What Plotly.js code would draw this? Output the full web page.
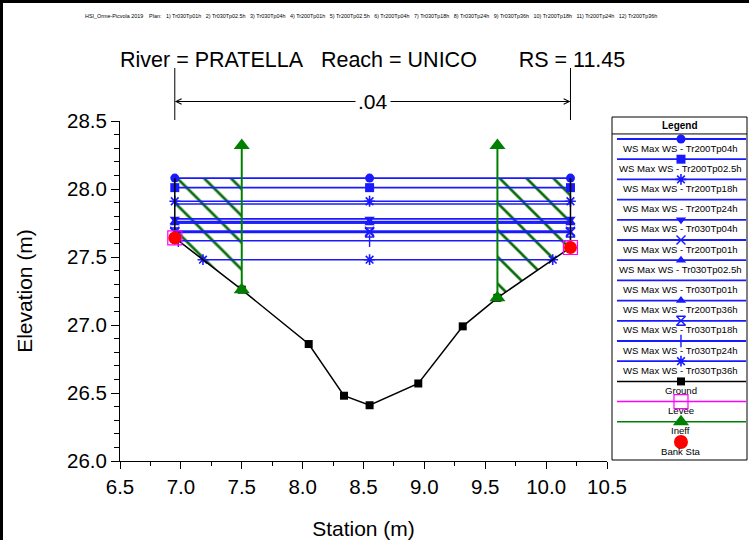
<!DOCTYPE html>
<html><head><meta charset="utf-8">
<script src="https://cdn.plot.ly/plotly-3.0.1.min.js"></script>
<style>html,body{margin:0;padding:0;background:#fff}#chart{width:749px;height:540px}</style>
</head><body><div id="chart"></div>
<script>
// ---------- data ----------
const stations   = [6.95, 7.5, 8.05, 8.34, 8.55, 8.95, 9.315, 9.6, 10.2];
const groundElev = [27.64, 27.26, 26.86, 26.48, 26.41, 26.57, 26.99, 27.20, 27.57];
const profileNames = ['Tr200Tp04h','Tr200Tp02.5h','Tr200Tp18h','Tr200Tp24h','Tr030Tp04h','Tr200Tp01h',
                      'Tr030Tp02.5h','Tr030Tp01h','Tr200Tp36h','Tr030Tp18h','Tr030Tp24h','Tr030Tp36h'];
const wsElev = [28.08, 28.01, 27.91, 27.89, 27.78, 27.69, 27.76, 27.75, 27.75, 27.68, 27.62, 27.48];
const bankStations  = [6.95, 10.2];
const leveeStations = [6.95, 10.2];
const ineffStations = [7.5, 9.6];
const ineffElev     = [28.32, 28.32];
const manningN      = ['.04'];
const xTicks = [6.5, 7.0, 7.5, 8.0, 8.5, 9.0, 9.5, 10.0, 10.5];
const yTicks = [26.0, 26.5, 27.0, 27.5, 28.0, 28.5];
const otherLegend = ['Ground', 'Levee', 'Ineff', 'Bank Sta'];
const titleText  = 'River = PRATELLA\u00a0\u00a0\u00a0Reach = UNICO\u00a0\u00a0\u00a0\u00a0\u00a0\u00a0\u00a0RS = 11.45';
const headerText = 'HSI_Orme-Picvola 2019\u00a0\u00a0\u00a0\u00a0Plan:\u00a0\u00a0 1) Tr030Tp01h\u00a0\u00a0 2) Tr030Tp02.5h\u00a0\u00a0 3) Tr030Tp04h\u00a0\u00a0 4) Tr200Tp01h\u00a0\u00a0 5) Tr200Tp02.5h\u00a0\u00a0 6) Tr200Tp04h\u00a0\u00a0 7) Tr030Tp18h\u00a0\u00a0 8) Tr030Tp24h\u00a0\u00a0 9) Tr030Tp36h\u00a0\u00a0 10) Tr200Tp18h\u00a0\u00a0 11) Tr200Tp24h\u00a0\u00a0 12) Tr200Tp36h';

// ---------- styles ----------
const WS_BLUE = '#1a1aff';
const wsSymbols = ['circle','square','asterisk-open','','triangle-down','x-thin-open','triangle-up','',
                   'triangle-up','hourglass-open','line-ns-open','asterisk-open'];
const FONT = 'Liberation Sans, Arial, sans-serif';

// ---------- helpers ----------
const n = stations.length;
function groundAt(x){
  for (let i=0;i<n-1;i++){
    if (x>=stations[i] && x<=stations[i+1]){
      const t=(x-stations[i])/(stations[i+1]-stations[i]);
      return groundElev[i]+t*(groundElev[i+1]-groundElev[i]);
    }
  }
  return x<stations[0]?groundElev[0]:groundElev[n-1];
}
function waterEnds(ws){
  let left=stations[0], right=stations[n-1];
  if (ws<groundElev[0]){
    for (let i=0;i<n-1;i++){
      if (groundElev[i]>=ws && groundElev[i+1]<=ws){
        left=stations[i]+(groundElev[i]-ws)/(groundElev[i]-groundElev[i+1])*(stations[i+1]-stations[i]); break;
      }
    }
  }
  if (ws<groundElev[n-1]){
    for (let i=n-1;i>0;i--){
      if (groundElev[i]>=ws && groundElev[i-1]<=ws){
        right=stations[i]-(groundElev[i]-ws)/(groundElev[i]-groundElev[i-1])*(stations[i]-stations[i-1]); break;
      }
    }
  }
  return [left,right];
}
const maxWS = Math.max(...wsElev);
const thalweg = stations[groundElev.indexOf(Math.min(...groundElev))];

function markerStyle(sym, size){
  const open = sym.indexOf('open')>=0;
  return {symbol:sym, size:size, color:WS_BLUE,
          line:{color:WS_BLUE, width: open ? (sym==='asterisk-open' ? 1.6 : 1.4) : 0}};
}

const traces = [];

// hatched ineffective areas
{
  const lx=[stations[0], ineffStations[0], ineffStations[0]];
  const ly=[maxWS, maxWS, groundAt(ineffStations[0])];
  for (let i=n-1;i>=0;i--) if (stations[i]<ineffStations[0]) { lx.push(stations[i]); ly.push(groundElev[i]); }
  lx.push(lx[0]); ly.push(ly[0]);
  const rx=[ineffStations[1], stations[n-1]];
  const ry=[maxWS, maxWS];
  for (let i=n-1;i>=0;i--) if (stations[i]>ineffStations[1]) { rx.push(stations[i]); ry.push(groundElev[i]); }
  rx.push(ineffStations[1]); ry.push(groundAt(ineffStations[1]));
  rx.push(rx[0]); ry.push(ry[0]);
  [[lx,ly],[rx,ry]].forEach(p=>{
    traces.push({x:p[0], y:p[1], mode:'lines', fill:'toself', fillcolor:'rgba(0,0,0,0)',
      fillpattern:{shape:'\\', fgcolor:'#0b6b0b', bgcolor:'rgba(0,0,0,0)', size:19, solidity:0.14},
      line:{width:0, color:'rgba(0,0,0,0)'}, hoverinfo:'skip', showlegend:false});
  });
}

// water surfaces
wsElev.forEach((ws,i)=>{
  const e=waterEnds(ws);
  const sym=wsSymbols[i];
  const t={x:[e[0], thalweg, e[1]], y:[ws,ws,ws], mode: sym?'lines+markers':'lines',
    line:{color:WS_BLUE, width:1.6}, name:'WS Max WS - '+profileNames[i], showlegend:false};
  if (sym) t.marker=markerStyle(sym, 9);
  traces.push(t);
});

// vertical walls where water rises above the section ends
traces.push({x:[stations[0],stations[0]], y:[groundElev[0], maxWS], mode:'lines', line:{color:'#000', width:1.5}, showlegend:false, hoverinfo:'skip'});
traces.push({x:[stations[n-1],stations[n-1]], y:[groundElev[n-1], maxWS], mode:'lines', line:{color:'#000', width:1.5}, showlegend:false, hoverinfo:'skip'});

// ground
traces.push({x:stations, y:groundElev, mode:'lines+markers', line:{color:'#000', width:1.5},
  marker:{symbol:'square', size:8, color:'#000'}, name:'Ground', showlegend:false});

// ineffective flow markers (green vertical lines)
ineffStations.forEach((s,k)=>{
  traces.push({x:[s,s], y:[groundAt(s), ineffElev[k]], mode:'lines+markers',
    line:{color:'#008000', width:2}, marker:{symbol:'triangle-up', size:14, color:'#008000'},
    showlegend:false, hoverinfo:'skip'});
});

// levee
traces.push({x:leveeStations, y:leveeStations.map(groundAt), mode:'markers',
  marker:{symbol:'square-open', size:14, color:'#ff00ff', line:{color:'#ff00ff', width:1.2}}, name:'Levee', showlegend:false});
// bank stations
traces.push({x:bankStations, y:bankStations.map(groundAt), mode:'markers',
  marker:{symbol:'circle', size:13, color:'#ff0000'}, name:'Bank Sta', showlegend:false});

// ---------- custom legend on its own axes ----------
const LX0=0.037, LXC=0.511, LX1=0.993;
const legendNames = profileNames.map(p=>'WS Max WS - '+p).concat(otherLegend);
const annotations = [];
profileNames.forEach((p,i)=>{
  traces.push({x:[LX0,LX1], y:[i,i], xaxis:'x2', yaxis:'y2', mode:'lines', line:{color:WS_BLUE, width:1.8}, showlegend:false, hoverinfo:'skip'});
  if (wsSymbols[i]) traces.push({x:[LXC], y:[i], xaxis:'x2', yaxis:'y2', mode:'markers', marker:markerStyle(wsSymbols[i], 9), showlegend:false, hoverinfo:'skip'});
});
const gi = profileNames.length;
traces.push({x:[LX0,LX1], y:[gi,gi], xaxis:'x2', yaxis:'y2', mode:'lines', line:{color:'#000', width:1.5}, showlegend:false});
traces.push({x:[LXC], y:[gi], xaxis:'x2', yaxis:'y2', mode:'markers', marker:{symbol:'square', size:8, color:'#000'}, showlegend:false});
traces.push({x:[LX0,LX1], y:[gi+1,gi+1], xaxis:'x2', yaxis:'y2', mode:'lines', line:{color:'#ff00ff', width:1.5}, showlegend:false});
traces.push({x:[LXC], y:[gi+1], xaxis:'x2', yaxis:'y2', mode:'markers', marker:{symbol:'square-open', size:14, color:'#ff00ff', line:{color:'#ff00ff', width:1.2}}, showlegend:false});
traces.push({x:[LX0,LX1], y:[gi+2,gi+2], xaxis:'x2', yaxis:'y2', mode:'lines', line:{color:'#008000', width:1.5}, showlegend:false});
traces.push({x:[LXC], y:[gi+2], xaxis:'x2', yaxis:'y2', mode:'markers', marker:{symbol:'triangle-up', size:14, color:'#008000'}, showlegend:false});
traces.push({x:[LXC], y:[gi+3], xaxis:'x2', yaxis:'y2', mode:'markers', marker:{symbol:'circle', size:14, color:'#ff0000'}, showlegend:false});

legendNames.forEach((t,i)=>{
  annotations.push({text:t, xref:'x2', yref:'y2', x:LXC, y:i, yshift:-9, showarrow:false,
    xanchor:'center', yanchor:'middle', font:{size:9.6, color:'#000', family:FONT}});
});
annotations.push({text:'<b>Legend</b>', xref:'x2', yref:'y2', x:0.5, y:-0.66, showarrow:false, font:{size:10, color:'#000', family:FONT}});

// titles / header
annotations.push({text:titleText, xref:'paper', yref:'paper', x:372.5/749, y:(540-60)/540, showarrow:false,
  xanchor:'center', yanchor:'middle', font:{size:21.5, color:'#000', family:FONT}});
annotations.push({text:headerText, xref:'paper', yref:'paper', x:371/749, y:(540-16)/540, showarrow:false,
  xanchor:'center', yanchor:'middle', font:{size:5.4, color:'#000', family:FONT}});

// Manning's n bracket
const nMid = (bankStations[0]+bankStations[1])/2;
const nY = (540-101.5)/540;
bankStations.forEach(b=>{
  annotations.push({text:'', x:b, y:nY, xref:'x', yref:'paper', axref:'x', ayref:'pixel', ax:nMid, ay:0,
    showarrow:true, arrowhead:5, arrowsize:1.1, arrowwidth:1, arrowcolor:'#000', standoff:0});
});
annotations.push({text:manningN[0], x:nMid, y:nY, xref:'x', yref:'paper', showarrow:false, bgcolor:'#fff',
  borderpad:2, xanchor:'center', yanchor:'middle', font:{size:21, color:'#000', family:FONT}});

const shapes = [];
bankStations.forEach(b=>{
  shapes.push({type:'line', xref:'x', yref:'paper', x0:b, x1:b, y0:(540-120)/540, y1:(540-68)/540, line:{color:'#000', width:1}});
});
shapes.push({type:'rect', xref:'x2 domain', yref:'y2 domain', x0:0, x1:1, y0:0, y1:1, line:{color:'#000', width:1}});
shapes.push({type:'line', xref:'x2 domain', yref:'y2', x0:0, x1:1, y0:-0.25, y1:-0.25, line:{color:'#000', width:1}});
shapes.push({type:'line', xref:'paper', yref:'paper', x0:0, x1:1, y0:1-1.5/540, y1:1-1.5/540, line:{color:'#000', width:3}});
shapes.push({type:'line', xref:'paper', yref:'paper', x0:1.5/749, x1:1.5/749, y0:0, y1:1, line:{color:'#000', width:3}});

const layout = {
  width:749, height:540, margin:{l:0,r:0,t:0,b:0},
  paper_bgcolor:'#fff', plot_bgcolor:'#fff', showlegend:false,
  font:{family:FONT, color:'#000'},
  xaxis:{domain:[120/749, 607/749], range:[6.5,10.5], anchor:'y',
    tickmode:'array', tickvals:xTicks, ticktext:xTicks.map(v=>v.toFixed(1)),
    ticks:'outside', ticklen:7, tickwidth:1, tickcolor:'#000',
    showline:true, linecolor:'#000', linewidth:1, showgrid:false, zeroline:false,
    tickfont:{size:20.5, color:'#000', family:FONT},
    minor:{tick0:6.5, dtick:0.25, ticks:'outside', ticklen:4, tickcolor:'#000', showgrid:false},
    title:{text:'Station (m)', font:{size:21, color:'#000', family:FONT}, standoff:24}},
  yaxis:{domain:[79/540, 419/540], range:[26,28.5], anchor:'x',
    tickmode:'array', tickvals:yTicks, ticktext:yTicks.map(v=>v.toFixed(1)),
    ticks:'outside', ticklen:8, tickwidth:1, tickcolor:'#000',
    showline:true, linecolor:'#000', linewidth:1, showgrid:false, zeroline:false,
    tickfont:{size:20.5, color:'#000', family:FONT},
    minor:{tick0:26, dtick:0.1, ticks:'outside', ticklen:5, tickcolor:'#000', showgrid:false},
    title:{text:'Elevation (m)', font:{size:21, color:'#000', family:FONT}, standoff:28}},
  xaxis2:{domain:[612/749, 747/749], range:[0,1], anchor:'y2', visible:false, fixedrange:true},
  yaxis2:{domain:[80/540, 423/540], range:[15.89,-1.089], anchor:'x2', visible:false, fixedrange:true},
  annotations:annotations, shapes:shapes
};
Plotly.newPlot('chart', traces, layout, {displayModeBar:false, staticPlot:true});
</script>
</body></html>
